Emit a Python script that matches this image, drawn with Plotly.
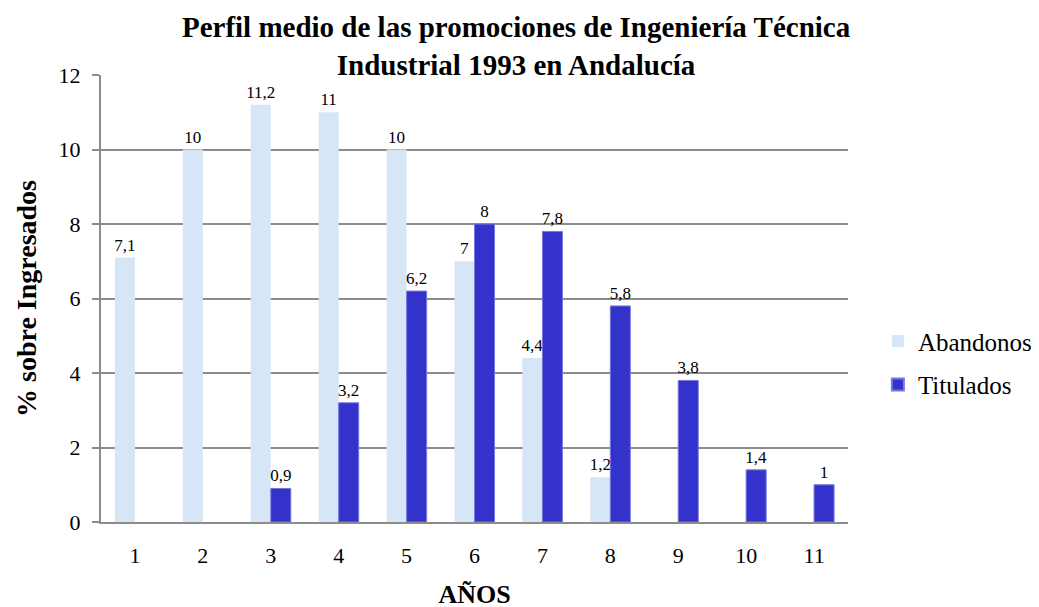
import plotly.graph_objects as go

categories = ["1", "2", "3", "4", "5", "6", "7", "8", "9", "10", "11"]
abandonos = [7.1, 10, 11.2, 11, 10, 7, 4.4, 1.2, None, None, None]
titulados = [None, None, 0.9, 3.2, 6.2, 8, 7.8, 5.8, 3.8, 1.4, 1]
y_ticks = [0, 2, 4, 6, 8, 10, 12]
title_lines = ["Perfil medio de las promociones de Ingeniería Técnica",
               "Industrial 1993 en Andalucía"]


def fmt(v):
    if v is None:
        return ""
    return ("%g" % v).replace(".", ",")


FONT = "Liberation Serif, Times New Roman, serif"

fig = go.Figure()
fig.add_trace(go.Bar(
    name="Abandonos", x=categories, y=abandonos, legendgroup="a",
    text=[fmt(v) for v in abandonos], textposition="outside", constraintext="none",
    textfont=dict(family=FONT, size=17, color="black"),
    marker=dict(color="#D6E6F6", line=dict(width=0)),
    cliponaxis=False,
))
fig.add_trace(go.Bar(
    name="Titulados", x=categories, y=titulados, legendgroup="b",
    text=[fmt(v) for v in titulados], textposition="outside", constraintext="none",
    textfont=dict(family=FONT, size=17, color="black"),
    marker=dict(color="#3333CC", line=dict(width=1, color="#7777E0")),
    cliponaxis=False,
))

fig.update_layout(
    width=1039, height=607,
    margin=dict(l=93, r=199, t=67, b=93, autoexpand=False),
    paper_bgcolor="white", plot_bgcolor="white",
    barmode="group", bargap=0.41, bargroupgap=0,
    font=dict(family=FONT, color="black"),
    title=dict(
        text="<b>" + "<br>".join(title_lines) + "</b>",
        x=0.489, xanchor="center", y=0.952, yanchor="middle",
        font=dict(family=FONT, size=29, color="black"),
    ),
    legend=dict(
        x=1.04, xanchor="left", y=0.356, yanchor="middle",
        font=dict(family=FONT, size=25, color="black"),
        bgcolor="rgba(0,0,0,0)", itemsizing="constant",
        tracegroupgap=8,
    ),
    showlegend=True,
)
fig.update_xaxes(
    type="category", automargin=False,
    showline=True, linecolor="#8C8C8C", linewidth=2,
    ticks="", tickfont=dict(family=FONT, size=22, color="black"),
    ticklabelstandoff=13,
    title=dict(text="<b>AÑOS</b>", font=dict(family=FONT, size=26, color="black"), standoff=17),
    showgrid=False,
)
fig.update_yaxes(
    range=[0, 12], tickvals=y_ticks, ticktext=[str(v) for v in y_ticks], automargin=False,
    showgrid=True, gridcolor="#8C8C8C", gridwidth=2,
    showline=True, linecolor="#8C8C8C", linewidth=2,
    ticks="outside", ticklen=7, tickcolor="#8C8C8C", tickwidth=2,
    tickfont=dict(family=FONT, size=22, color="black"),
    ticklabelstandoff=7,
    title=dict(text="<b>% sobre Ingresados</b>", font=dict(family=FONT, size=28, color="black"), standoff=14),
    zeroline=False,
)

fig.write_html("out.html")
